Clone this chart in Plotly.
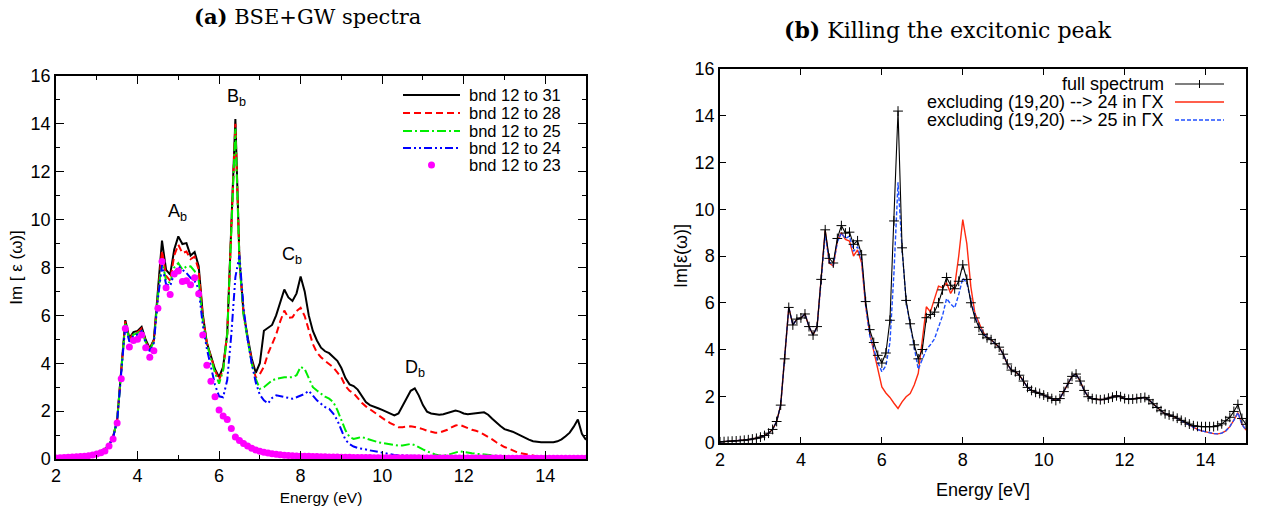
import numpy as np
import plotly.graph_objects as go

# ---------------- data (Im eps vs energy, 0.1 eV grid from 2.0 to 15.0 eV) ----------------
energy = np.round(np.arange(20, 151) / 10.0, 1)

full_spectrum = [  # = bnd 12 to 31
    0.05, 0.06, 0.07, 0.08, 0.09, 0.10, 0.12, 0.14, 0.17, 0.20,
    0.25, 0.32, 0.42, 0.58, 0.92, 1.62, 3.60, 5.80, 5.05, 5.30,
    5.35, 5.52, 4.98, 4.62, 4.98, 7.00, 9.12, 7.90, 7.70, 8.75,
    9.30, 8.98, 9.02, 8.50, 8.65, 8.05, 6.05, 4.85, 4.30, 3.75,
    3.42, 3.85, 5.25, 9.50, 14.20, 8.35, 6.10, 5.10, 4.20, 3.60,
    4.00, 5.36, 5.50, 5.60, 6.00, 6.55, 7.08, 6.75, 6.60, 6.92,
    7.62, 7.00, 6.00, 5.35, 4.95, 4.65, 4.50, 4.42, 4.25, 4.10,
    3.80, 3.38, 3.12, 3.05, 2.90, 2.65, 2.38, 2.25, 2.17, 2.12,
    2.05, 1.97, 1.90, 1.82, 1.90, 2.20, 2.55, 2.85, 2.95, 2.65,
    2.25, 1.98, 1.90, 1.87, 1.85, 1.87, 1.92, 1.96, 2.02, 1.98,
    1.90, 1.87, 1.88, 1.90, 1.93, 1.95, 1.85, 1.68, 1.52, 1.38,
    1.25, 1.20, 1.14, 1.06, 0.97, 0.89, 0.81, 0.74, 0.71, 0.70,
    0.70, 0.70, 0.70, 0.74, 0.82, 0.95, 1.10, 1.35, 1.65, 1.05,
    0.80]

bnd_12_28 = [
    0.05, 0.06, 0.07, 0.08, 0.09, 0.10, 0.12, 0.14, 0.17, 0.20,
    0.25, 0.32, 0.42, 0.58, 0.92, 1.62, 3.58, 5.75, 5.02, 5.25,
    5.30, 5.45, 4.92, 4.58, 4.95, 6.90, 8.70, 7.65, 7.45, 8.50,
    8.95, 8.60, 8.67, 8.35, 8.45, 7.90, 5.95, 4.85, 4.30, 3.70,
    3.30, 3.75, 5.25, 9.40, 14.00, 8.30, 6.10, 5.05, 4.10, 3.41,
    3.55, 3.85, 4.40, 4.80, 5.20, 5.75, 6.20, 5.90, 5.92, 6.18,
    6.32, 5.97, 5.35, 4.80, 4.45, 4.25, 4.10, 3.97, 3.83, 3.62,
    3.40, 3.05, 2.85, 2.75, 2.55, 2.35, 2.20, 2.08, 1.95, 1.82,
    1.70, 1.60, 1.50, 1.40, 1.33, 1.33, 1.36, 1.37, 1.34, 1.30,
    1.25, 1.18, 1.13, 1.10, 1.10, 1.15, 1.22, 1.32, 1.40, 1.43,
    1.35, 1.27, 1.22, 1.18, 1.12, 1.02, 0.93, 0.82, 0.70, 0.60,
    0.50, 0.44, 0.36, 0.29, 0.24, 0.20, 0.17, 0.14, 0.11, 0.09,
    0.07, 0.05, 0.04, 0.03, 0.03, 0.03, 0.02, 0.02, 0.02, 0.02,
    0.02]

bnd_12_25 = [
    0.05, 0.06, 0.07, 0.08, 0.09, 0.10, 0.12, 0.14, 0.17, 0.20,
    0.25, 0.32, 0.42, 0.58, 0.92, 1.60, 3.55, 5.70, 4.95, 5.20,
    5.25, 5.40, 4.88, 4.55, 4.90, 6.80, 8.30, 7.45, 7.36, 8.00,
    8.18, 7.92, 8.04, 8.05, 7.85, 7.45, 5.80, 4.80, 4.20, 3.60,
    3.15, 3.70, 5.20, 9.20, 13.80, 8.20, 6.00, 5.00, 4.00, 3.35,
    2.93, 3.00, 3.14, 3.28, 3.35, 3.39, 3.41, 3.41, 3.42, 3.50,
    3.85, 3.76, 3.41, 3.00, 2.86, 2.72, 2.60, 2.52, 2.38, 2.05,
    1.62, 1.20, 0.92, 0.84, 0.88, 0.92, 0.86, 0.80, 0.75, 0.70,
    0.67, 0.64, 0.62, 0.59, 0.56, 0.56, 0.60, 0.63, 0.58, 0.48,
    0.40, 0.32, 0.25, 0.19, 0.15, 0.14, 0.17, 0.22, 0.28, 0.32,
    0.30, 0.26, 0.24, 0.22, 0.21, 0.20, 0.18, 0.16, 0.14, 0.12,
    0.10, 0.08, 0.07, 0.06, 0.05, 0.05, 0.04, 0.04, 0.03, 0.03,
    0.03, 0.03, 0.02, 0.02, 0.02, 0.02, 0.02, 0.02, 0.02, 0.02,
    0.02]

bnd_12_24 = [
    0.05, 0.06, 0.07, 0.08, 0.09, 0.10, 0.12, 0.14, 0.17, 0.20,
    0.25, 0.32, 0.42, 0.58, 0.90, 1.58, 3.50, 5.60, 4.90, 5.15,
    5.20, 5.35, 4.85, 4.50, 4.85, 6.70, 8.10, 7.30, 7.22, 7.77,
    8.05, 7.90, 7.77, 7.57, 7.44, 7.10, 5.60, 4.60, 3.80, 3.10,
    2.62, 2.58, 3.30, 5.20, 7.60, 8.50, 6.30, 5.00, 4.00, 3.20,
    2.68, 2.45, 2.32, 2.55, 2.66, 2.62, 2.58, 2.54, 2.52, 2.58,
    2.66, 2.72, 2.85, 2.66, 2.45, 2.31, 2.17, 2.10, 1.90, 1.62,
    1.20, 0.80, 0.62, 0.52, 0.46, 0.44, 0.40, 0.36, 0.33, 0.28,
    0.24, 0.21, 0.19, 0.17, 0.16, 0.15, 0.13, 0.12, 0.11, 0.10,
    0.09, 0.08, 0.08, 0.07, 0.07, 0.07, 0.08, 0.09, 0.10, 0.10,
    0.09, 0.08, 0.07, 0.06, 0.05, 0.05, 0.04, 0.04, 0.03, 0.03,
    0.03, 0.03, 0.02, 0.02, 0.02, 0.02, 0.02, 0.02, 0.02, 0.02,
    0.02, 0.02, 0.02, 0.02, 0.02, 0.02, 0.02, 0.02, 0.02, 0.02,
    0.02]

bnd_12_23 = [
    0.04, 0.05, 0.06, 0.07, 0.08, 0.09, 0.10, 0.12, 0.14, 0.17,
    0.21, 0.26, 0.33, 0.54, 0.84, 1.50, 3.35, 5.45, 4.68, 4.95,
    5.00, 5.18, 4.65, 4.25, 4.52, 6.30, 8.25, 7.15, 6.87, 7.73,
    7.85, 7.42, 7.45, 7.28, 7.57, 6.90, 5.18, 3.92, 3.25, 2.60,
    2.05, 1.80, 1.65, 1.27, 0.92, 0.77, 0.65, 0.54, 0.45, 0.38,
    0.32, 0.28, 0.25, 0.22, 0.20, 0.18, 0.16, 0.15, 0.14, 0.13,
    0.12, 0.11, 0.11, 0.10, 0.10, 0.09, 0.09, 0.08, 0.08, 0.08,
    0.07, 0.07, 0.07, 0.06, 0.06, 0.06, 0.06, 0.06, 0.05, 0.05,
    0.05, 0.05, 0.05, 0.05, 0.05, 0.05, 0.05, 0.05, 0.05, 0.05,
    0.04, 0.04, 0.04, 0.04, 0.04, 0.04, 0.04, 0.04, 0.04, 0.04,
    0.04, 0.04, 0.04, 0.04, 0.04, 0.04, 0.04, 0.04, 0.04, 0.04,
    0.03, 0.03, 0.03, 0.03, 0.03, 0.03, 0.03, 0.03, 0.03, 0.03,
    0.03, 0.03, 0.03, 0.03, 0.03, 0.03, 0.03, 0.03, 0.03, 0.03,
    0.03]

excl_to_24 = [
    0.05, 0.06, 0.07, 0.08, 0.09, 0.10, 0.12, 0.14, 0.17, 0.20,
    0.25, 0.32, 0.42, 0.58, 0.92, 1.62, 3.60, 5.80, 5.05, 5.30,
    5.35, 5.52, 4.98, 4.62, 4.98, 7.00, 9.10, 7.70, 7.57, 8.64,
    9.00, 8.71, 8.64, 8.00, 8.26, 7.71, 5.86, 4.70, 3.90, 3.10,
    2.40, 2.14, 1.95, 1.70, 1.48, 1.76, 1.98, 2.12, 2.48, 2.98,
    4.30, 5.83, 5.61, 6.18, 6.71, 6.65, 6.85, 6.40, 6.71, 8.00,
    9.56, 8.53, 6.68, 5.55, 5.12, 4.75, 4.52, 4.42, 4.25, 4.10,
    3.80, 3.38, 3.12, 3.05, 2.90, 2.65, 2.38, 2.25, 2.17, 2.12,
    2.05, 1.97, 1.90, 1.82, 1.90, 2.20, 2.55, 2.85, 2.95, 2.65,
    2.25, 1.98, 1.90, 1.87, 1.85, 1.87, 1.92, 1.96, 2.02, 1.98,
    1.90, 1.87, 1.88, 1.90, 1.93, 1.95, 1.85, 1.68, 1.52, 1.38,
    1.25, 1.20, 1.14, 1.05, 0.95, 0.85, 0.75, 0.65, 0.58, 0.52,
    0.47, 0.42, 0.40, 0.39, 0.42, 0.52, 0.70, 0.98, 1.30, 0.80,
    0.55]

excl_to_25 = [
    0.05, 0.06, 0.07, 0.08, 0.09, 0.10, 0.12, 0.14, 0.17, 0.20,
    0.25, 0.32, 0.42, 0.58, 0.92, 1.62, 3.60, 5.80, 5.05, 5.30,
    5.35, 5.52, 4.98, 4.62, 4.98, 7.00, 8.95, 7.75, 7.60, 8.60,
    8.98, 8.75, 8.85, 8.20, 8.40, 7.85, 5.90, 4.60, 4.00, 3.45,
    3.05, 3.30, 4.30, 7.30, 11.15, 8.30, 6.05, 5.00, 4.10, 3.15,
    3.60, 4.00, 4.20, 4.45, 4.95, 5.45, 6.18, 5.95, 5.78, 6.35,
    7.05, 6.85, 6.10, 5.45, 5.00, 4.70, 4.52, 4.42, 4.25, 4.10,
    3.80, 3.38, 3.12, 3.05, 2.90, 2.65, 2.38, 2.25, 2.17, 2.12,
    2.05, 1.97, 1.90, 1.82, 1.90, 2.20, 2.55, 2.85, 2.95, 2.65,
    2.25, 1.98, 1.90, 1.87, 1.85, 1.87, 1.92, 1.96, 2.02, 1.98,
    1.90, 1.87, 1.88, 1.90, 1.93, 1.95, 1.85, 1.68, 1.52, 1.38,
    1.25, 1.20, 1.14, 1.05, 0.95, 0.85, 0.75, 0.65, 0.58, 0.52,
    0.47, 0.42, 0.40, 0.39, 0.42, 0.52, 0.70, 0.98, 1.30, 0.80,
    0.55]

peak_labels = ["A", "B", "C", "D"]
peak_label_x = [4.97, 6.42, 7.8, 10.8]
peak_label_y = [10.3, 15.1, 8.5, 3.8]

left_names = ["bnd 12 to 31", "bnd 12 to 28", "bnd 12 to 25", "bnd 12 to 24", "bnd 12 to 23"]
right_names = ["full spectrum", "excluding (19,20) --> 24 in ΓX", "excluding (19,20) --> 25 in ΓX"]

# ---------------- figure ----------------
W, H = 1261, 514
FONT = "Liberation Sans, Arial, sans-serif"
SERIF = "DejaVu Serif, serif"


def px(x):
    return x / W


def py(y):
    return 1 - y / H


fig = go.Figure()

left_styles = [
    (full_spectrum, "black", "solid", 2.0),
    (bnd_12_28, "#ff0000", "7px,4px", 2.0),
    (bnd_12_25, "#00ee00", "9px,3px,2px,3px", 2.0),
    (bnd_12_24, "#0000ff", "8px,3px,2px,3px,2px,3px", 2.0),
]
for ys, col, dash, w in left_styles:
    fig.add_trace(go.Scatter(x=energy, y=ys, mode="lines", xaxis="x", yaxis="y",
                             line=dict(color=col, width=w, dash=dash), showlegend=False))
fig.add_trace(go.Scatter(x=energy, y=bnd_12_23, mode="markers", xaxis="x", yaxis="y",
                         marker=dict(color="#ff00ff", size=7, line=dict(width=0)), showlegend=False))

# right panel
fig.add_trace(go.Scatter(x=energy, y=excl_to_24, mode="lines", xaxis="x2", yaxis="y2",
                         line=dict(color="#ff2a10", width=1.4), showlegend=False))
fig.add_trace(go.Scatter(x=energy, y=excl_to_25, mode="lines", xaxis="x2", yaxis="y2",
                         line=dict(color="#1f4fff", width=1.4, dash="4px,2px"), showlegend=False))
fig.add_trace(go.Scatter(x=energy, y=full_spectrum, mode="lines+markers", xaxis="x2", yaxis="y2",
                         line=dict(color="black", width=1.1),
                         marker=dict(symbol="cross-thin", size=7, line=dict(color="black", width=1)),
                         showlegend=False))

ax_common = dict(showline=True, linecolor="black", linewidth=1.5, mirror="allticks",
                 ticks="inside", tickcolor="black", tickwidth=1.2, showgrid=False, zeroline=False,
                 automargin=False, tickfont=dict(family=FONT, size=18, color="black"))

fig.update_layout(
    template="none",
    width=W, height=H,
    margin=dict(l=0, r=0, t=0, b=0, autoexpand=False),
    paper_bgcolor="white", plot_bgcolor="white",
    xaxis=dict(domain=[px(56), px(586)], range=[2, 15], tick0=2, dtick=2, ticklen=8,
               minor=dict(dtick=1, ticklen=4, ticks="inside", tickcolor="black", tickwidth=1.2),
               title=dict(text="Energy (eV)", font=dict(family=FONT, size=15.5, color="black"), standoff=7),
               anchor="y", **ax_common),
    yaxis=dict(domain=[py(459), py(76)], range=[0, 16], tick0=0, dtick=2, ticklen=8,
               minor=dict(dtick=1, ticklen=4, ticks="inside", tickcolor="black", tickwidth=1.2),
               title=dict(text="Im [ ε (ω)]", font=dict(family=FONT, size=17, color="black"), standoff=4),
               anchor="x", **ax_common),
    xaxis2=dict(domain=[px(720), px(1246)], range=[2, 15], tick0=2, dtick=2, ticklen=6,
                title=dict(text="Energy [eV]", font=dict(family=FONT, size=18, color="black"), standoff=14),
                anchor="y2", **ax_common),
    yaxis2=dict(domain=[py(443), py(69)], range=[0, 16], tick0=0, dtick=2, ticklen=6,
                title=dict(text="Im[ε(ω)]", font=dict(family=FONT, size=18, color="black"), standoff=2),
                anchor="x2", **ax_common),
)

annotations = []
# panel titles
annotations.append(dict(text="<b>(a)</b> BSE+GW spectra", x=px(307), y=py(16), xref="paper", yref="paper",
                        showarrow=False, font=dict(family=SERIF, size=21, color="black"),
                        xanchor="center", yanchor="middle"))
annotations.append(dict(text="<b>(b)</b> Killing the excitonic peak", x=px(948), y=py(30), xref="paper",
                        yref="paper", showarrow=False, font=dict(family=SERIF, size=22, color="black"),
                        xanchor="center", yanchor="middle"))
# peak labels
for lab, lx, ly in zip(peak_labels, peak_label_x, peak_label_y):
    annotations.append(dict(text=f"{lab}<sub>b</sub>", x=lx, y=ly, xref="x", yref="y", showarrow=False,
                            font=dict(family=FONT, size=18, color="black"), xanchor="center", yanchor="middle"))

shapes = []
# left legend (custom, line sample on the left)
left_leg_rows = [95, 113, 131, 148, 165]
for (ys, col, dash, w), row, name in zip(left_styles, left_leg_rows, left_names):
    shapes.append(dict(type="line", xref="paper", yref="paper", x0=px(403), x1=px(460), y0=py(row), y1=py(row),
                       line=dict(color=col, width=w, dash=dash)))
    annotations.append(dict(text=name, x=px(467), y=py(row), xref="paper", yref="paper", showarrow=False,
                            xanchor="left", yanchor="middle", font=dict(family=FONT, size=16.5, color="black")))
shapes.append(dict(type="circle", xref="paper", yref="paper", x0=px(428), x1=px(435),
                   y0=py(left_leg_rows[4] + 3.5), y1=py(left_leg_rows[4] - 3.5),
                   fillcolor="#ff00ff", line=dict(width=0)))
annotations.append(dict(text=left_names[4], x=px(467), y=py(left_leg_rows[4]), xref="paper", yref="paper",
                        showarrow=False, xanchor="left", yanchor="middle",
                        font=dict(family=FONT, size=16.5, color="black")))

# right legend (custom, text on the left, sample on the right)
right_leg_rows = [84, 102, 120]
right_leg_styles = [("black", "solid", 1.1), ("#ff2a10", "solid", 1.4), ("#1f4fff", "4px,2px", 1.4)]
for (col, dash, w), row, name in zip(right_leg_styles, right_leg_rows, right_names):
    shapes.append(dict(type="line", xref="paper", yref="paper", x0=px(1175), x1=px(1224), y0=py(row), y1=py(row),
                       line=dict(color=col, width=w, dash=dash)))
    annotations.append(dict(text=name, x=px(1166), y=py(row), xref="paper", yref="paper", showarrow=False,
                            xanchor="right", yanchor="middle", font=dict(family=FONT, size=18, color="black")))
shapes.append(dict(type="line", xref="paper", yref="paper", x0=px(1199.5), x1=px(1199.5),
                   y0=py(right_leg_rows[0] - 4), y1=py(right_leg_rows[0] + 4), line=dict(color="black", width=1)))

fig.update_layout(annotations=annotations, shapes=shapes)

fig.write_html("out.html")
